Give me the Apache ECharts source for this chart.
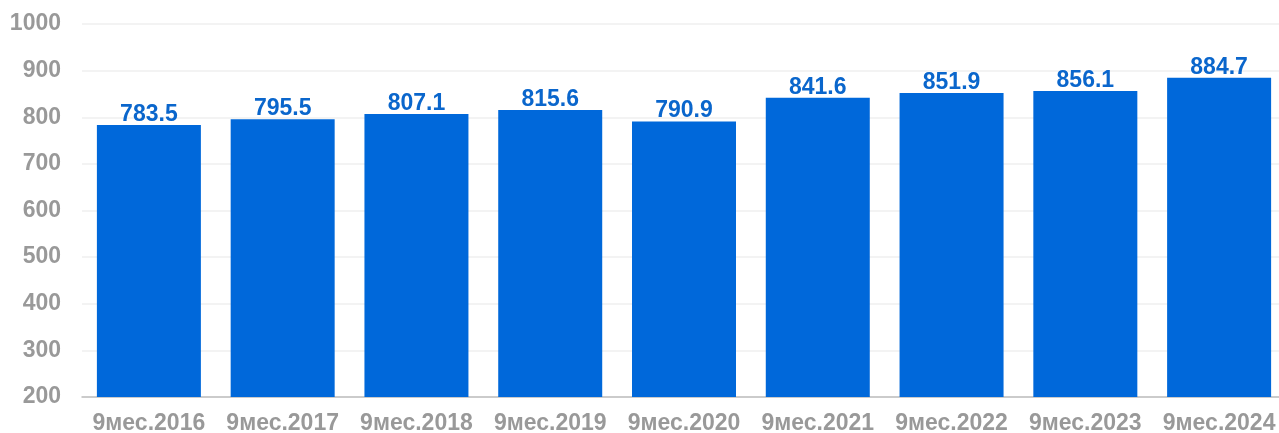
<!DOCTYPE html>
<html>
<head>
<meta charset="utf-8">
<script src="https://cdn.jsdelivr.net/npm/echarts@6/dist/echarts.min.js"></script>
<style>
  html, body { margin: 0; padding: 0; background: #fff; }
  #chart { width: 1279px; height: 433px; }
</style>
</head>
<body>
<div id="chart"></div>
<script>
// data
const categories = ['9мес.2016', '9мес.2017', '9мес.2018', '9мес.2019', '9мес.2020', '9мес.2021', '9мес.2022', '9мес.2023', '9мес.2024'];
const values = [783.5, 795.5, 807.1, 815.6, 790.9, 841.6, 851.9, 856.1, 884.7];

const chart = echarts.init(document.getElementById('chart'));

const option = {
  animation: false,
  grid: {
    left: 82,
    top: 24,
    width: 1204,
    height: 373,
    outerBoundsMode: 'none'
  },
  xAxis: {
    type: 'category',
    data: categories,
    axisTick: { show: false },
    axisLine: { lineStyle: { color: '#bfbfbf', width: 1.5 } },
    axisLabel: {
      interval: 0,
      color: '#999999',
      fontFamily: 'Liberation Sans, Arial, sans-serif',
      fontWeight: 'bold',
      fontSize: 23,
      margin: 15
    }
  },
  yAxis: {
    type: 'value',
    min: 200,
    max: 1000,
    interval: 100,
    axisLine: { show: false },
    axisTick: { show: false },
    axisLabel: {
      color: '#999999',
      fontFamily: 'Liberation Sans, Arial, sans-serif',
      fontWeight: 'bold',
      fontSize: 23,
      margin: 21,
      formatter: (v) => String(v)
    },
    splitLine: { lineStyle: { color: '#efefef', width: 1.5 } }
  },
  series: [
    {
      type: 'bar',
      data: values,
      barWidth: 104,
      itemStyle: { color: '#0068da' },
      label: {
        show: true,
        position: 'top',
        distance: -1,
        color: '#0a66cc',
        fontFamily: 'Liberation Sans, Arial, sans-serif',
        fontWeight: 'bold',
        fontSize: 23,
        formatter: (p) => p.value.toFixed(1)
      }
    }
  ]
};

chart.setOption(option);
</script>
</body>
</html>
